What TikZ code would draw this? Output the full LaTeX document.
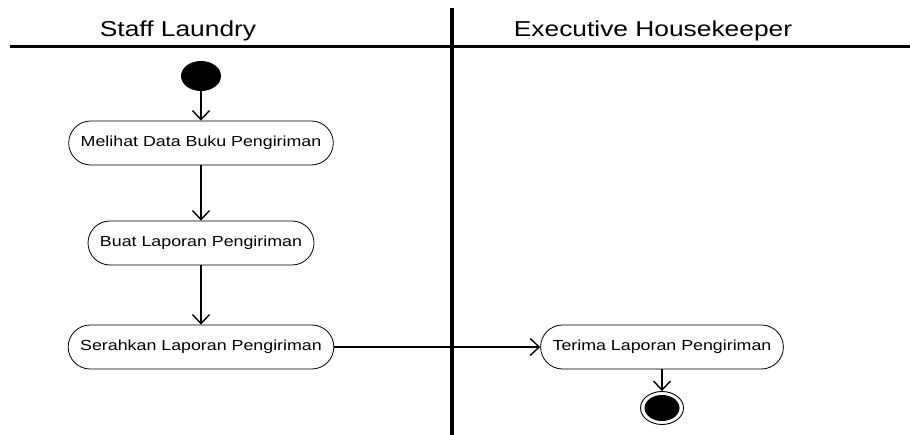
\documentclass[tikz,border=0pt]{standalone}
\usepackage{fontspec}
\usetikzlibrary{arrows.meta,shapes.geometric}
\newfontfamily\lanefont[FakeStretch=1.22]{Liberation Sans}

\begin{document}
\begin{tikzpicture}[x=1pt,y=-1pt,>={Straight Barb[length=9pt,width=17pt]},
   lane/.style={font=\lanefont\fontsize{21.6}{26}\selectfont, anchor=base},
   act/.style={draw, line width=0.8pt, rounded corners=22pt, minimum height=44pt,
               inner xsep=12pt, font=\lanefont\fontsize{14.6}{17}\selectfont},
   flow/.style={->, line width=1.4pt}]
   \useasboundingbox (0,0) rectangle (910,435);
   \draw [line width=3pt] (10,47) -- (910,47);
   \draw [line width=4pt] (452,8) -- (452,435);
   \node [lane] (laundry) at (178,37) {Staff Laundry};
   \node [lane] (keeper) at (653,37) {Executive Housekeeper};
   \node [ellipse, fill, minimum width=40pt, minimum height=30pt, inner sep=0pt] (start) at (201,76) {};
   \node [act] (melihat) at (201,143) {Melihat Data Buku Pengiriman};
   \node [act] (buat) at (201,243) {Buat Laporan Pengiriman};
   \node [act] (serahkan) at (201,347) {Serahkan Laporan Pengiriman};
   \node [act] (terima) at (662,347) {Terima Laporan Pengiriman};
   \node [ellipse, draw, line width=0.9pt, minimum width=43pt, minimum height=33pt, inner sep=0pt] (stop) at (662,408) {};
   \node [ellipse, fill, minimum width=35pt, minimum height=26pt, inner sep=0pt] (stopdot) at (stop) {};
   \draw [flow] (start) -- (melihat);
   \draw [flow] (melihat) -- (buat);
   \draw [flow] (buat) -- (serahkan);
   \draw [flow] (serahkan) -- (terima);
   \draw [flow] (terima) -- (stop);
\end{tikzpicture}
\end{document}
